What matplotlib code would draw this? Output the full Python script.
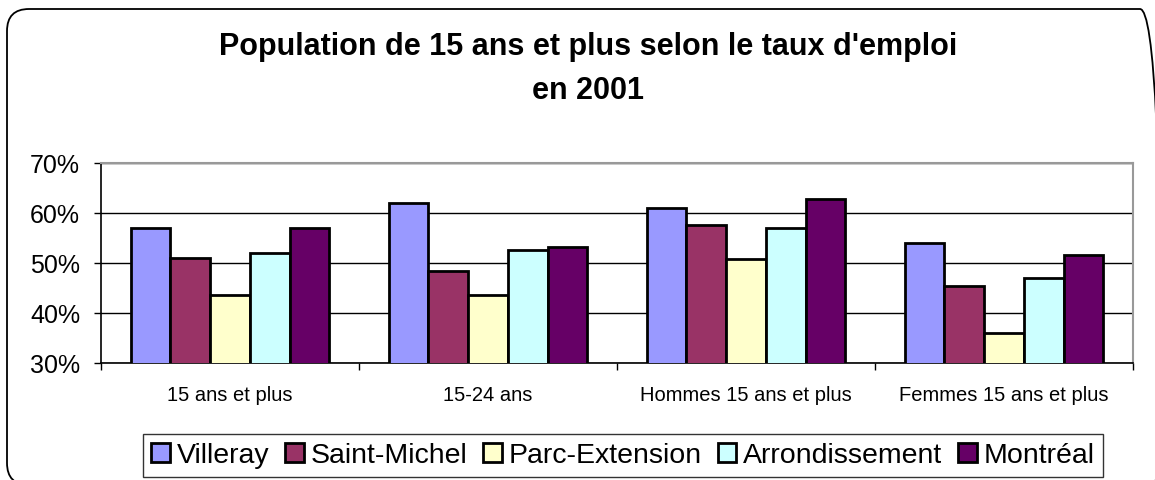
import matplotlib
matplotlib.use("Agg")
import matplotlib.pyplot as plt
import numpy as np
from matplotlib.patches import FancyBboxPatch
from matplotlib.transforms import IdentityTransform
from matplotlib.ticker import FuncFormatter

categories = ["15 ans et plus", "15-24 ans", "Hommes 15 ans et plus", "Femmes 15 ans et plus"]
series_names = ["Villeray", "Saint-Michel", "Parc-Extension", "Arrondissement", "Montréal"]
villeray = [57.0, 62.0, 61.0, 54.0]
saint_michel = [51.1, 48.5, 57.6, 45.5]
parc_extension = [43.7, 43.7, 50.8, 36.0]
arrondissement = [52.0, 52.7, 57.1, 47.1]
montreal = [57.0, 53.2, 62.8, 51.6]
colors = ["#9999FF", "#993366", "#FFFFCC", "#CCFFFF", "#660066"]
yticks = [30, 40, 50, 60, 70]

series = [villeray, saint_michel, parc_extension, arrondissement, montreal]

plt.rcParams['font.family'] = ['Liberation Sans', 'DejaVu Sans']

W, H = 1155, 481
fig = plt.figure(figsize=(W/100, H/100), dpi=100)
ax = fig.add_axes([101/W, 1-364/H, (1133-101)/W, 200/H])

n = len(series)
bw = 1/(n+1.5)
x = np.arange(len(categories))
for i, (vals, c, name) in enumerate(zip(series, colors, series_names)):
    off = (i - (n-1)/2) * bw
    ax.bar(x + off, vals, width=bw, color=c, edgecolor="black", linewidth=2,
           label=name, zorder=3)

ax.set_xlim(-0.5, len(categories)-0.5)
ax.set_ylim(30, 70)
ax.set_yticks(yticks)
ax.yaxis.set_major_formatter(FuncFormatter(lambda v, p: f"{v:.0f}%"))
ax.yaxis.grid(True, color="black", linewidth=1, zorder=0)
ax.set_axisbelow(True)

ax.set_xticks(np.arange(len(categories)+1) - 0.5, minor=False)
ax.set_xticklabels([])
ax.set_xticks(x, minor=True)
ax.set_xticklabels(categories, minor=True, fontsize=14.5)
ax.tick_params(axis="x", which="minor", length=0, pad=16)
ax.tick_params(axis="x", which="major", length=5, width=1, direction="out")
ax.tick_params(axis="y", labelsize=18, length=5, width=1, pad=10)

for s in ["top", "right"]:
    ax.spines[s].set_color("#999999")
    ax.spines[s].set_linewidth(1.5)
for s in ["left", "bottom"]:
    ax.spines[s].set_color("black")
    ax.spines[s].set_linewidth(1.2)

fig.text(588/W, 1-69/H, "Population de 15 ans et plus selon le taux d'emploi\nen 2001",
         ha="center", va="center", fontsize=22, fontweight="bold", linespacing=1.6)

leg = fig.legend(loc="center", bbox_to_anchor=(623/W, 1-456.5/H), ncol=5, fontsize=20.5,
                 frameon=True, fancybox=False, edgecolor="black", handlelength=0.65,
                 handleheight=0.65, handletextpad=0.25, columnspacing=0.55,
                 borderpad=0.3, borderaxespad=0)
leg.get_frame().set_linewidth(1)

# outer rounded frame, in pixel coordinates (origin bottom-left)
box = FancyBboxPatch((7, H-486), 1162-7, 486-10,
                     boxstyle="round,pad=0,rounding_size=22",
                     transform=IdentityTransform(), facecolor="none", edgecolor="black",
                     linewidth=1.3)
fig.patches.append(box)

fig.savefig("out.png", dpi=100)
